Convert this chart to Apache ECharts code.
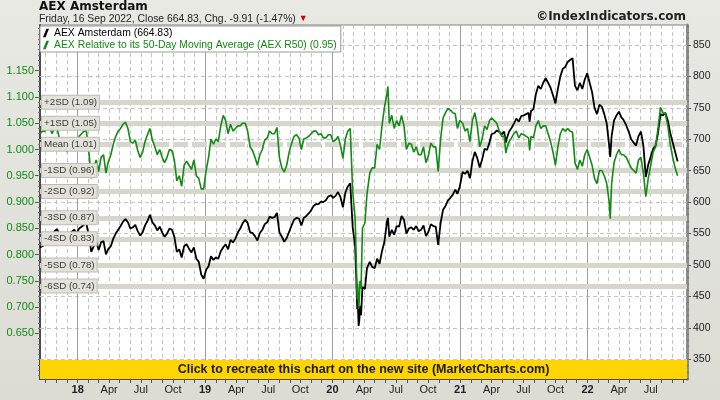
<!DOCTYPE html>
<html><head><meta charset="utf-8">
<script src="https://cdn.jsdelivr.net/npm/echarts@6/dist/echarts.min.js"></script>
<style>html,body{margin:0;padding:0;background:#e4e4dd}#c{width:720px;height:400px}</style>
</head><body><div id="c"></div>
<script>
const dates = [
'2017-09-15','2017-09-22','2017-09-29','2017-10-06','2017-10-13','2017-10-20','2017-10-27','2017-11-03','2017-11-10','2017-11-17','2017-11-24','2017-12-01','2017-12-08','2017-12-15','2017-12-22','2017-12-29',
'2018-01-05','2018-01-12','2018-01-19','2018-01-26','2018-02-02','2018-02-09','2018-02-16','2018-02-23','2018-03-02','2018-03-09','2018-03-16','2018-03-23','2018-03-29','2018-04-06','2018-04-13','2018-04-20','2018-04-27','2018-05-04','2018-05-11','2018-05-18','2018-05-25','2018-06-01','2018-06-08','2018-06-15','2018-06-22','2018-06-29','2018-07-06','2018-07-13','2018-07-20','2018-07-27','2018-08-03','2018-08-10','2018-08-17','2018-08-24','2018-08-31','2018-09-07','2018-09-14','2018-09-21','2018-09-28','2018-10-05','2018-10-12','2018-10-19','2018-10-26','2018-11-02','2018-11-09','2018-11-16','2018-11-23','2018-11-30','2018-12-07','2018-12-14','2018-12-21','2018-12-28',
'2019-01-04','2019-01-11','2019-01-18','2019-01-25','2019-02-01','2019-02-08','2019-02-15','2019-02-22','2019-03-01','2019-03-08','2019-03-15','2019-03-22','2019-03-29','2019-04-05','2019-04-12','2019-04-18','2019-04-26','2019-05-03','2019-05-10','2019-05-17','2019-05-24','2019-05-31','2019-06-07','2019-06-14','2019-06-21','2019-06-28','2019-07-05','2019-07-12','2019-07-19','2019-07-26','2019-08-02','2019-08-09','2019-08-16','2019-08-23','2019-08-30','2019-09-06','2019-09-13','2019-09-20','2019-09-27','2019-10-04','2019-10-11','2019-10-18','2019-10-25','2019-11-01','2019-11-08','2019-11-15','2019-11-22','2019-11-29','2019-12-06','2019-12-13','2019-12-20','2019-12-27',
'2020-01-03','2020-01-10','2020-01-17','2020-01-24','2020-01-31','2020-02-07','2020-02-14','2020-02-21','2020-02-28','2020-03-06','2020-03-09','2020-03-12','2020-03-13','2020-03-16','2020-03-18','2020-03-20','2020-03-23','2020-03-27','2020-04-03','2020-04-09','2020-04-17','2020-04-24','2020-05-01','2020-05-08','2020-05-15','2020-05-22','2020-05-29','2020-06-05','2020-06-08','2020-06-12','2020-06-19','2020-06-26','2020-07-03','2020-07-10','2020-07-17','2020-07-24','2020-07-31','2020-08-07','2020-08-14','2020-08-21','2020-08-28','2020-09-04','2020-09-11','2020-09-18','2020-09-25','2020-10-02','2020-10-09','2020-10-16','2020-10-23','2020-10-30','2020-11-06','2020-11-13','2020-11-20','2020-11-27','2020-12-04','2020-12-11','2020-12-18','2020-12-24','2020-12-31',
'2021-01-08','2021-01-15','2021-01-22','2021-01-29','2021-02-05','2021-02-12','2021-02-19','2021-02-26','2021-03-05','2021-03-12','2021-03-19','2021-03-26','2021-04-01','2021-04-09','2021-04-16','2021-04-23','2021-04-30','2021-05-07','2021-05-12','2021-05-14','2021-05-21','2021-05-28','2021-06-04','2021-06-11','2021-06-18','2021-06-25','2021-07-02','2021-07-09','2021-07-16','2021-07-19','2021-07-23','2021-07-30','2021-08-06','2021-08-13','2021-08-20','2021-08-27','2021-09-03','2021-09-10','2021-09-17','2021-09-24','2021-10-01','2021-10-08','2021-10-15','2021-10-22','2021-10-29','2021-11-05','2021-11-12','2021-11-19','2021-11-26','2021-12-03','2021-12-10','2021-12-17','2021-12-24','2021-12-31',
'2022-01-07','2022-01-14','2022-01-21','2022-01-28','2022-02-04','2022-02-11','2022-02-18','2022-02-25','2022-03-04','2022-03-07','2022-03-11','2022-03-18','2022-03-25','2022-04-01','2022-04-08','2022-04-14','2022-04-22','2022-04-29','2022-05-06','2022-05-13','2022-05-20','2022-05-27','2022-06-03','2022-06-10','2022-06-17','2022-06-24','2022-07-01','2022-07-08','2022-07-15','2022-07-22','2022-07-29','2022-08-05','2022-08-12','2022-08-19','2022-08-26','2022-09-02','2022-09-09','2022-09-16'
];
const aex = [
528,530,533,541,545,543,554,557,548,546,549,541,551,553,556,550,
558,561,564,566,546,521,530,537,524,536,538,517,525,530,542,550,556,562,569,573,568,558,560,564,554,547,552,563,570,580,568,563,555,561,552,545,550,558,556,545,521,525,512,530,533,526,520,528,510,505,485,478,
492,498,514,508,512,510,522,528,533,525,540,536,542,552,558,566,572,567,552,551,546,539,551,556,565,568,577,575,576,583,552,545,537,543,553,563,572,575,574,563,575,578,582,587,594,597,597,601,600,603,609,611,
607,610,616,608,592,615,625,630,560,530,485,430,450,403,412,435,420,465,462,495,505,497,495,510,502,522,537,568,575,545,556,548,562,561,578,572,550,558,560,556,562,554,556,563,546,553,565,562,561,532,567,588,594,603,607,612,620,613,625,
648,645,650,638,665,680,670,655,668,685,683,695,708,710,714,712,708,712,695,700,712,718,725,733,728,737,738,740,742,728,745,748,772,785,780,790,797,790,782,770,757,780,800,812,815,823,826,829,785,778,790,780,795,805,
790,775,750,740,755,752,740,725,690,672,705,730,738,744,735,731,722,712,700,695,690,705,712,690,640,660,672,685,690,710,740,738,742,730,710,695,680,664.83
];
const r50 = [
1.030,1.035,1.035,1.040,1.040,1.030,1.045,1.040,1.020,1.012,1.015,0.995,1.012,1.015,1.022,1.010,
1.025,1.030,1.035,1.035,0.995,0.945,0.965,0.980,0.958,0.985,0.990,0.955,0.975,0.990,1.010,1.025,1.035,1.040,1.048,1.052,1.040,1.015,1.012,1.018,0.998,0.985,0.995,1.015,1.028,1.040,1.018,1.005,0.990,1.000,0.985,0.975,0.985,1.000,0.998,0.980,0.940,0.950,0.930,0.970,0.978,0.970,0.962,0.980,0.950,0.945,0.925,0.925,
0.960,0.985,1.020,1.010,1.020,1.015,1.045,1.065,1.055,1.030,1.048,1.035,1.040,1.045,1.045,1.050,1.050,1.035,1.005,0.998,0.985,0.970,0.990,1.000,1.018,1.022,1.035,1.030,1.030,1.042,0.985,0.965,0.957,0.970,0.995,1.012,1.025,1.028,1.022,1.000,1.020,1.022,1.025,1.030,1.035,1.035,1.028,1.030,1.022,1.022,1.028,1.028,
1.015,1.018,1.025,1.008,0.983,1.020,1.035,1.040,0.920,0.870,0.795,0.715,0.745,0.697,0.715,0.750,0.735,0.850,0.860,0.915,0.955,0.965,0.965,1.010,1.000,1.045,1.080,1.105,1.120,1.050,1.065,1.040,1.055,1.045,1.065,1.045,1.000,1.012,1.010,0.995,1.005,0.990,0.990,1.005,0.975,0.988,1.012,1.005,1.005,0.958,1.020,1.060,1.070,1.078,1.075,1.070,1.068,1.040,1.055,
1.050,1.035,1.040,1.015,1.055,1.070,1.045,1.005,1.020,1.045,1.038,1.055,1.060,1.055,1.050,1.035,1.025,1.025,0.993,1.000,1.015,1.022,1.030,1.035,1.022,1.030,1.028,1.025,1.022,0.998,1.025,1.022,1.045,1.055,1.040,1.045,1.045,1.030,1.015,0.995,0.970,1.005,1.030,1.040,1.035,1.040,1.035,1.033,0.975,0.962,0.980,0.968,0.990,1.000,
0.985,0.970,0.945,0.935,0.960,0.960,0.950,0.935,0.900,0.868,0.935,0.975,0.990,1.000,0.990,0.990,0.985,0.975,0.965,0.960,0.955,0.980,0.985,0.955,0.910,0.945,0.970,0.995,1.005,1.040,1.080,1.070,1.068,1.045,1.010,0.985,0.965,0.950
];
const bandValues = [1.0945, 1.050, 1.0055, 0.961, 0.9165, 0.872, 0.8275, 0.783, 0.7385];
const bandLabels = ['+2SD (1.09)','+1SD (1.05)','Mean (1.01)','-1SD (0.96)','-2SD (0.92)','-3SD (0.87)','-4SD (0.83)','-5SD (0.78)','-6SD (0.74)'];
const leftTicks = [0.65,0.70,0.75,0.80,0.85,0.90,0.95,1.00,1.05,1.10,1.15];
const rightTicks = [350,400,450,500,550,600,650,700,750,800,850];
const xLabelDates = ['2018-01-01','2018-04-01','2018-07-01','2018-10-01','2019-01-01','2019-04-01','2019-07-01','2019-10-01','2020-01-01','2020-04-01','2020-07-01','2020-10-01','2021-01-01','2021-04-01','2021-07-01','2021-10-01','2022-01-01','2022-04-01','2022-07-01'];
const xLabelTexts = ['18','Apr','Jul','Oct','19','Apr','Jul','Oct','20','Apr','Jul','Oct','21','Apr','Jul','Oct','22','Apr','Jul'];
const nameA = 'AEX Amsterdam (664.83)';
const nameB = 'AEX Relative to its 50-Day Moving Average (AEX R50) (0.95)';

function ts(s){ const p = s.split('-').map(Number); return Date.UTC(p[0], p[1]-1, p[2]); }
const xMin = ts('2017-09-15'), xMax = ts('2022-10-13');
const monthTicks = [];
for (let y = 2017; y <= 2022; y++) for (let m = 0; m < 12; m++) { const t = Date.UTC(y, m, 1); if (t > xMin && t < xMax) monthTicks.push(t); }
const labelMap = {}; xLabelDates.forEach((d,i)=>{ labelMap[ts(d)] = xLabelTexts[i]; });
const leftMinor = []; for (let i = 57; i <= 123; i++) leftMinor.push(i/100);
const rightMinor = []; for (let v = 320; v <= 880; v += 10) rightMinor.push(v);

const GREEN = '#138a13';
const chart = echarts.init(document.getElementById('c'), null, {renderer:'canvas'});
const gridLines = [];
rightTicks.forEach(v => gridLines.push({yAxis: v, lineStyle:{color:'#c4c4c4', width:1, type:[4,3]}}));
monthTicks.forEach(t => { const isYear = new Date(t).getUTCMonth() === 0;
  gridLines.push({xAxis: t, lineStyle: isYear ? {color:'#a0a0a0', width:1, type:'solid'} : {color:'#c4c4c4', width:1, type:[4,3]}}); });

chart.setOption({
  animation: false,
  backgroundColor: {type:'linear', x:0, y:0, x2:0, y2:1, colorStops:[{offset:0, color:'#e9e9e4'}, {offset:1, color:'#dcdcd5'}]},
  textStyle: {fontFamily: 'Liberation Sans'},
  title: [
    {text: 'AEX Amsterdam', left: 39, top: 1, padding: 0, itemGap: 1,
     textStyle: {fontFamily: 'DejaVu Sans', fontWeight: 'bold', fontSize: 12, color: '#111'},
     subtext: 'Friday, 16 Sep 2022, Close 664.83, Chg. -9.91 (-1.47%) {t|▼}',
     subtextStyle: {fontFamily: 'Liberation Sans', fontSize: 10.4, color: '#222', rich: {t: {color: '#d40000', fontSize: 9}}}},
    {text: '©IndexIndicators.com', right: 34, top: 11, padding: 0,
     textStyle: {fontFamily: 'DejaVu Sans', fontWeight: 'bold', fontSize: 12, color: '#222'}}
  ],
  legend: {
    left: 40, top: 26, orient: 'vertical', padding: [1, 4, 1, 3], itemGap: 0,
    itemWidth: 6, itemHeight: 9, z: 20,
    backgroundColor: '#ffffff', borderColor: '#9a9a9a', borderWidth: 1, borderRadius: 0,
    icon: 'path://M4,0 L7,0 L3,10 L0,10 Z',
    textStyle: {fontFamily: 'Liberation Sans', fontSize: 10.4, lineHeight: 12},
    data: [{name: nameA, textStyle: {color: '#000'}}, {name: nameB, textStyle: {color: GREEN}}]
  },
  grid: {left: 40, right: 33, top: 25, bottom: 21, show: true, backgroundColor: '#ffffff', borderColor: '#808080', borderWidth: 1},
  xAxis: {
    type: 'value', min: xMin, max: xMax,
    axisLine: {show: true, lineStyle: {color: '#4a4a4a', width: 2}},
    axisTick: {show: true, customValues: monthTicks, length: 4, lineStyle: {color: '#555'}},
    axisLabel: {customValues: xLabelDates.map(ts), margin: 5, fontSize: 11, color: '#222',
      formatter: function (v) { const s = labelMap[v] || ''; return /^\d+$/.test(s) ? '{b|' + s + '}' : s; },
      rich: {b: {fontWeight: 'bold', fontSize: 11, color: '#222', fontFamily: 'Liberation Sans'}}},
    splitLine: {show: false}
  },
  yAxis: [
    {type: 'value', position: 'left', min: 0.563, max: 1.237,
     axisLine: {show: true, lineStyle: {color: '#4a4a4a', width: 2}},
     axisTick: {show: true, customValues: leftTicks, length: 5, lineStyle: {color: '#555'}},
     axisLabel: {customValues: leftTicks, margin: 6, fontSize: 11, color: GREEN, formatter: v => v.toFixed(3)},
     splitLine: {show: false}},
    {type: 'value', position: 'right', min: 318.7, max: 881.8,
     axisLine: {show: true, lineStyle: {color: '#8c8c8c', width: 3}},
     axisTick: {show: true, customValues: rightTicks, length: 4, lineStyle: {color: '#555'}},
     axisLabel: {customValues: rightTicks, margin: 6, fontSize: 10.5, color: '#222'},
     splitLine: {show: false}},
    {type: 'value', position: 'left', min: 0.563, max: 1.237,
     axisLine: {show: false}, axisLabel: {show: false}, splitLine: {show: false},
     axisTick: {show: true, customValues: leftMinor, length: 2, lineStyle: {color: '#777'}}},
    {type: 'value', position: 'right', min: 318.7, max: 881.8,
     axisLine: {show: false}, axisLabel: {show: false}, splitLine: {show: false},
     axisTick: {show: true, customValues: rightMinor, length: 2, lineStyle: {color: '#777'}}}
  ],
  series: [
    {name: 'gridlines', type: 'line', yAxisIndex: 1, data: [], z: 1, silent: true,
     markLine: {z: 1, silent: true, symbol: ['none','none'], animation: false, label: {show: false}, data: gridLines}},
    {name: 'bands', type: 'line', yAxisIndex: 0, data: [], z: 2, silent: true,
     markLine: {z: 2, silent: true, symbol: ['none','none'], animation: false, label: {show: false},
       data: bandValues.map((v, i) => ({yAxis: v, lineStyle: {color: '#d6d6cd', width: 5, type: i === 2 ? [15, 4] : 'solid', cap: 'butt'}}))}},
    {name: nameA, type: 'line', yAxisIndex: 1, z: 3, showSymbol: false, symbol: 'none',
     itemStyle: {color: '#000'}, lineStyle: {color: '#000', width: 1.8},
     data: dates.map((d, i) => [ts(d), aex[i]])},
    {name: nameB, type: 'line', yAxisIndex: 0, z: 4, showSymbol: false, symbol: 'none',
     itemStyle: {color: GREEN}, lineStyle: {color: GREEN, width: 1.6},
     data: dates.map((d, i) => [ts(d), r50[i]])},
    {name: 'bandLabels', type: 'line', yAxisIndex: 0, data: [], z: 10, silent: true,
     markLine: {z: 10, silent: true, symbol: ['none','none'], animation: false,
       lineStyle: {color: 'rgba(0,0,0,0)', width: 1},
       label: {show: true, position: 'insideStart', distance: [2, 0],
           fontFamily: 'Liberation Sans', fontSize: 9.8, color: '#3a3a3a',
           backgroundColor: '#e2e2da', borderColor: '#bdbdb5', borderWidth: 1, padding: [2, 2, 1, 2],
           formatter: function (p) { return p.name; }},
       data: bandValues.map((v, i) => ({yAxis: v, name: bandLabels[i]}))}},
    {name: 'banner', type: 'line', yAxisIndex: 1, data: [], z: 11, silent: true,
     markArea: {z: 11, silent: true, itemStyle: {color: '#ffd500'},
       label: {show: true, position: 'inside', color: '#1a1a1a', fontWeight: 'bold', fontSize: 12.5, fontFamily: 'Liberation Sans'},
       data: [[{yAxis: 318.7, name: 'Click to recreate this chart on the new site (MarketCharts.com)'}, {yAxis: 348.9}]]}}
  ]
});
</script></body></html>
